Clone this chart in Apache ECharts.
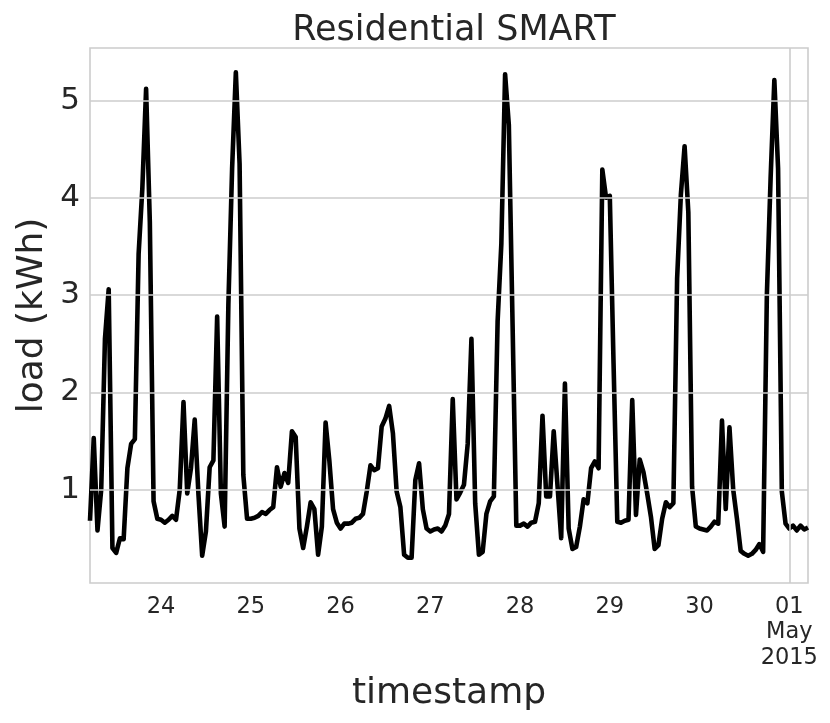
<!DOCTYPE html>
<html>
<head>
<meta charset="utf-8">
<script src="https://cdn.jsdelivr.net/npm/echarts@6/dist/echarts.min.js"></script>
<style>
html,body{margin:0;padding:0;background:#fff;}
#chart{width:830px;height:723px;}
</style>
</head>
<body>
<div id="chart"></div>
<script>
// Hourly readings starting 2015-04-23 05:00
const startTime = [2015, 3, 23, 5];
const loads = [
  0.68, 1.53, 0.58, 1.0, 2.55, 3.06, 0.4, 0.35, 0.5, 0.49,
  1.22, 1.47, 1.52, 3.42, 4.1, 5.12, 3.75, 0.88, 0.7, 0.69,
  0.66, 0.69, 0.73, 0.69, 1.0, 1.9, 0.96, 1.22, 1.72, 0.95,
  0.32, 0.57, 1.23, 1.3, 2.78, 0.96, 0.62, 2.9, 4.3, 5.29,
  4.35, 1.15, 0.7, 0.7, 0.71, 0.73, 0.77, 0.75, 0.79, 0.82,
  1.23, 1.03, 1.17, 1.07, 1.6, 1.54, 0.6, 0.4, 0.62, 0.87,
  0.8, 0.33, 0.62, 1.69, 1.3, 0.8, 0.66, 0.6, 0.65, 0.65,
  0.66, 0.7, 0.71, 0.75, 0.98, 1.25, 1.2, 1.22, 1.65, 1.73,
  1.86, 1.58, 0.98, 0.82, 0.33, 0.3, 0.3, 1.1, 1.27, 0.8,
  0.6, 0.57, 0.59, 0.6, 0.57, 0.63, 0.75, 1.93, 0.9, 0.97,
  1.05, 1.47, 2.55, 0.86, 0.33, 0.36, 0.75, 0.88, 0.93, 2.73,
  3.53, 5.27, 4.75, 2.7, 0.63, 0.63, 0.65, 0.62, 0.66, 0.67,
  0.86, 1.76, 0.93, 0.93, 1.6, 1.05, 0.5, 2.09, 0.6, 0.39,
  0.41, 0.62, 0.9, 0.86, 1.22, 1.29, 1.22, 4.29, 4.0, 4.02,
  2.3, 0.67, 0.66, 0.68, 0.69, 1.92, 0.74, 1.31, 1.18, 0.96,
  0.72, 0.39, 0.43, 0.7, 0.87, 0.82, 0.86, 3.17, 4.03, 4.53,
  3.85, 1.03, 0.62, 0.6, 0.59, 0.58, 0.62, 0.67, 0.65, 1.71,
  0.8, 1.64, 1.0, 0.7, 0.37, 0.34, 0.32, 0.34, 0.38, 0.44,
  0.36, 3.0, 4.2, 5.21, 4.3, 0.98, 0.65, 0.6, 0.63, 0.58,
  0.63, 0.59, 0.61
];
const tickDates = [[2015,3,24],[2015,3,25],[2015,3,26],[2015,3,27],[2015,3,28],[2015,3,29],[2015,3,30],[2015,4,1]];
const tickLabels = ['24','25','26','27','28','29','30','01\nMay\n2015'];
const majorDates = [[2015,4,1]];
const yTicks = [1, 2, 3, 4, 5];

const HOUR = 3600 * 1000;
const t0 = Date.UTC(startTime[0], startTime[1], startTime[2], startTime[3]);
const data = loads.map((v, i) => [t0 + i * HOUR, v]);
const tickVals = tickDates.map(d => Date.UTC(d[0], d[1], d[2]));
const majorVals = majorDates.map(d => Date.UTC(d[0], d[1], d[2]));

const textColor = '#262626';
const gridColor = '#cccccc';
const font = 'DejaVu Sans';

const chart = echarts.init(document.getElementById('chart'), null, {renderer: 'canvas'});
chart.setOption({
  backgroundColor: '#ffffff',
  animation: false,
  title: {
    text: 'Residential SMART',
    left: 449,
    textAlign: 'center',
    top: 8,
    textStyle: {fontFamily: font, fontSize: 35, fontWeight: 'normal', color: textColor}
  },
  grid: {
    left: 90, right: 22, top: 48, bottom: 140,
    containLabel: false,
    outerBoundsMode: 'none',
    show: true, borderColor: gridColor, borderWidth: 1.6, backgroundColor: '#ffffff'
  },
  xAxis: {
    type: 'value',
    min: t0,
    max: t0 + (loads.length - 1) * HOUR,
    name: 'timestamp',
    nameLocation: 'middle',
    nameGap: 86,
    nameTextStyle: {fontFamily: font, fontSize: 36, color: textColor},
    axisLine: {show: false},
    axisTick: {show: false, customValues: tickVals},
    splitLine: {show: false},
    axisLabel: {
      customValues: tickVals,
      margin: 11,
      fontFamily: font,
      fontSize: 22.5,
      lineHeight: 25.5,
      color: textColor,
      showMinLabel: true,
      showMaxLabel: true,
      formatter: function (val) {
        const i = tickVals.indexOf(val);
        return i >= 0 ? tickLabels[i] : '';
      }
    }
  },
  yAxis: {
    type: 'value',
    min: 0.04,
    max: 5.54,
    name: 'load (kWh)',
    nameLocation: 'middle',
    nameGap: 39,
    nameMoveOverlap: false,
    nameTextStyle: {fontFamily: font, fontSize: 36, color: textColor},
    axisLine: {show: false},
    axisTick: {show: false, customValues: yTicks},
    splitLine: {show: false},
    axisLabel: {
      customValues: yTicks,
      margin: 10,
      fontFamily: font,
      fontSize: 31,
      color: textColor,
      formatter: v => String(v)
    }
  },
  series: [
    {
      type: 'line',
      z: 1,
      data: [],
      silent: true,
      markLine: {
        silent: true,
        symbol: 'none',
        label: {show: false},
        lineStyle: {color: gridColor, width: 1.6, type: 'solid'},
        data: yTicks.map(v => ({yAxis: v})).concat(majorVals.map(v => ({xAxis: v})))
      }
    },
    {
      type: 'line',
      z: 3,
      data: data,
      showSymbol: false,
      symbol: 'none',
      lineStyle: {color: '#000000', width: 4.6, join: 'round'},
      itemStyle: {color: '#000000'}
    }
  ]
});
</script>
</body>
</html>
